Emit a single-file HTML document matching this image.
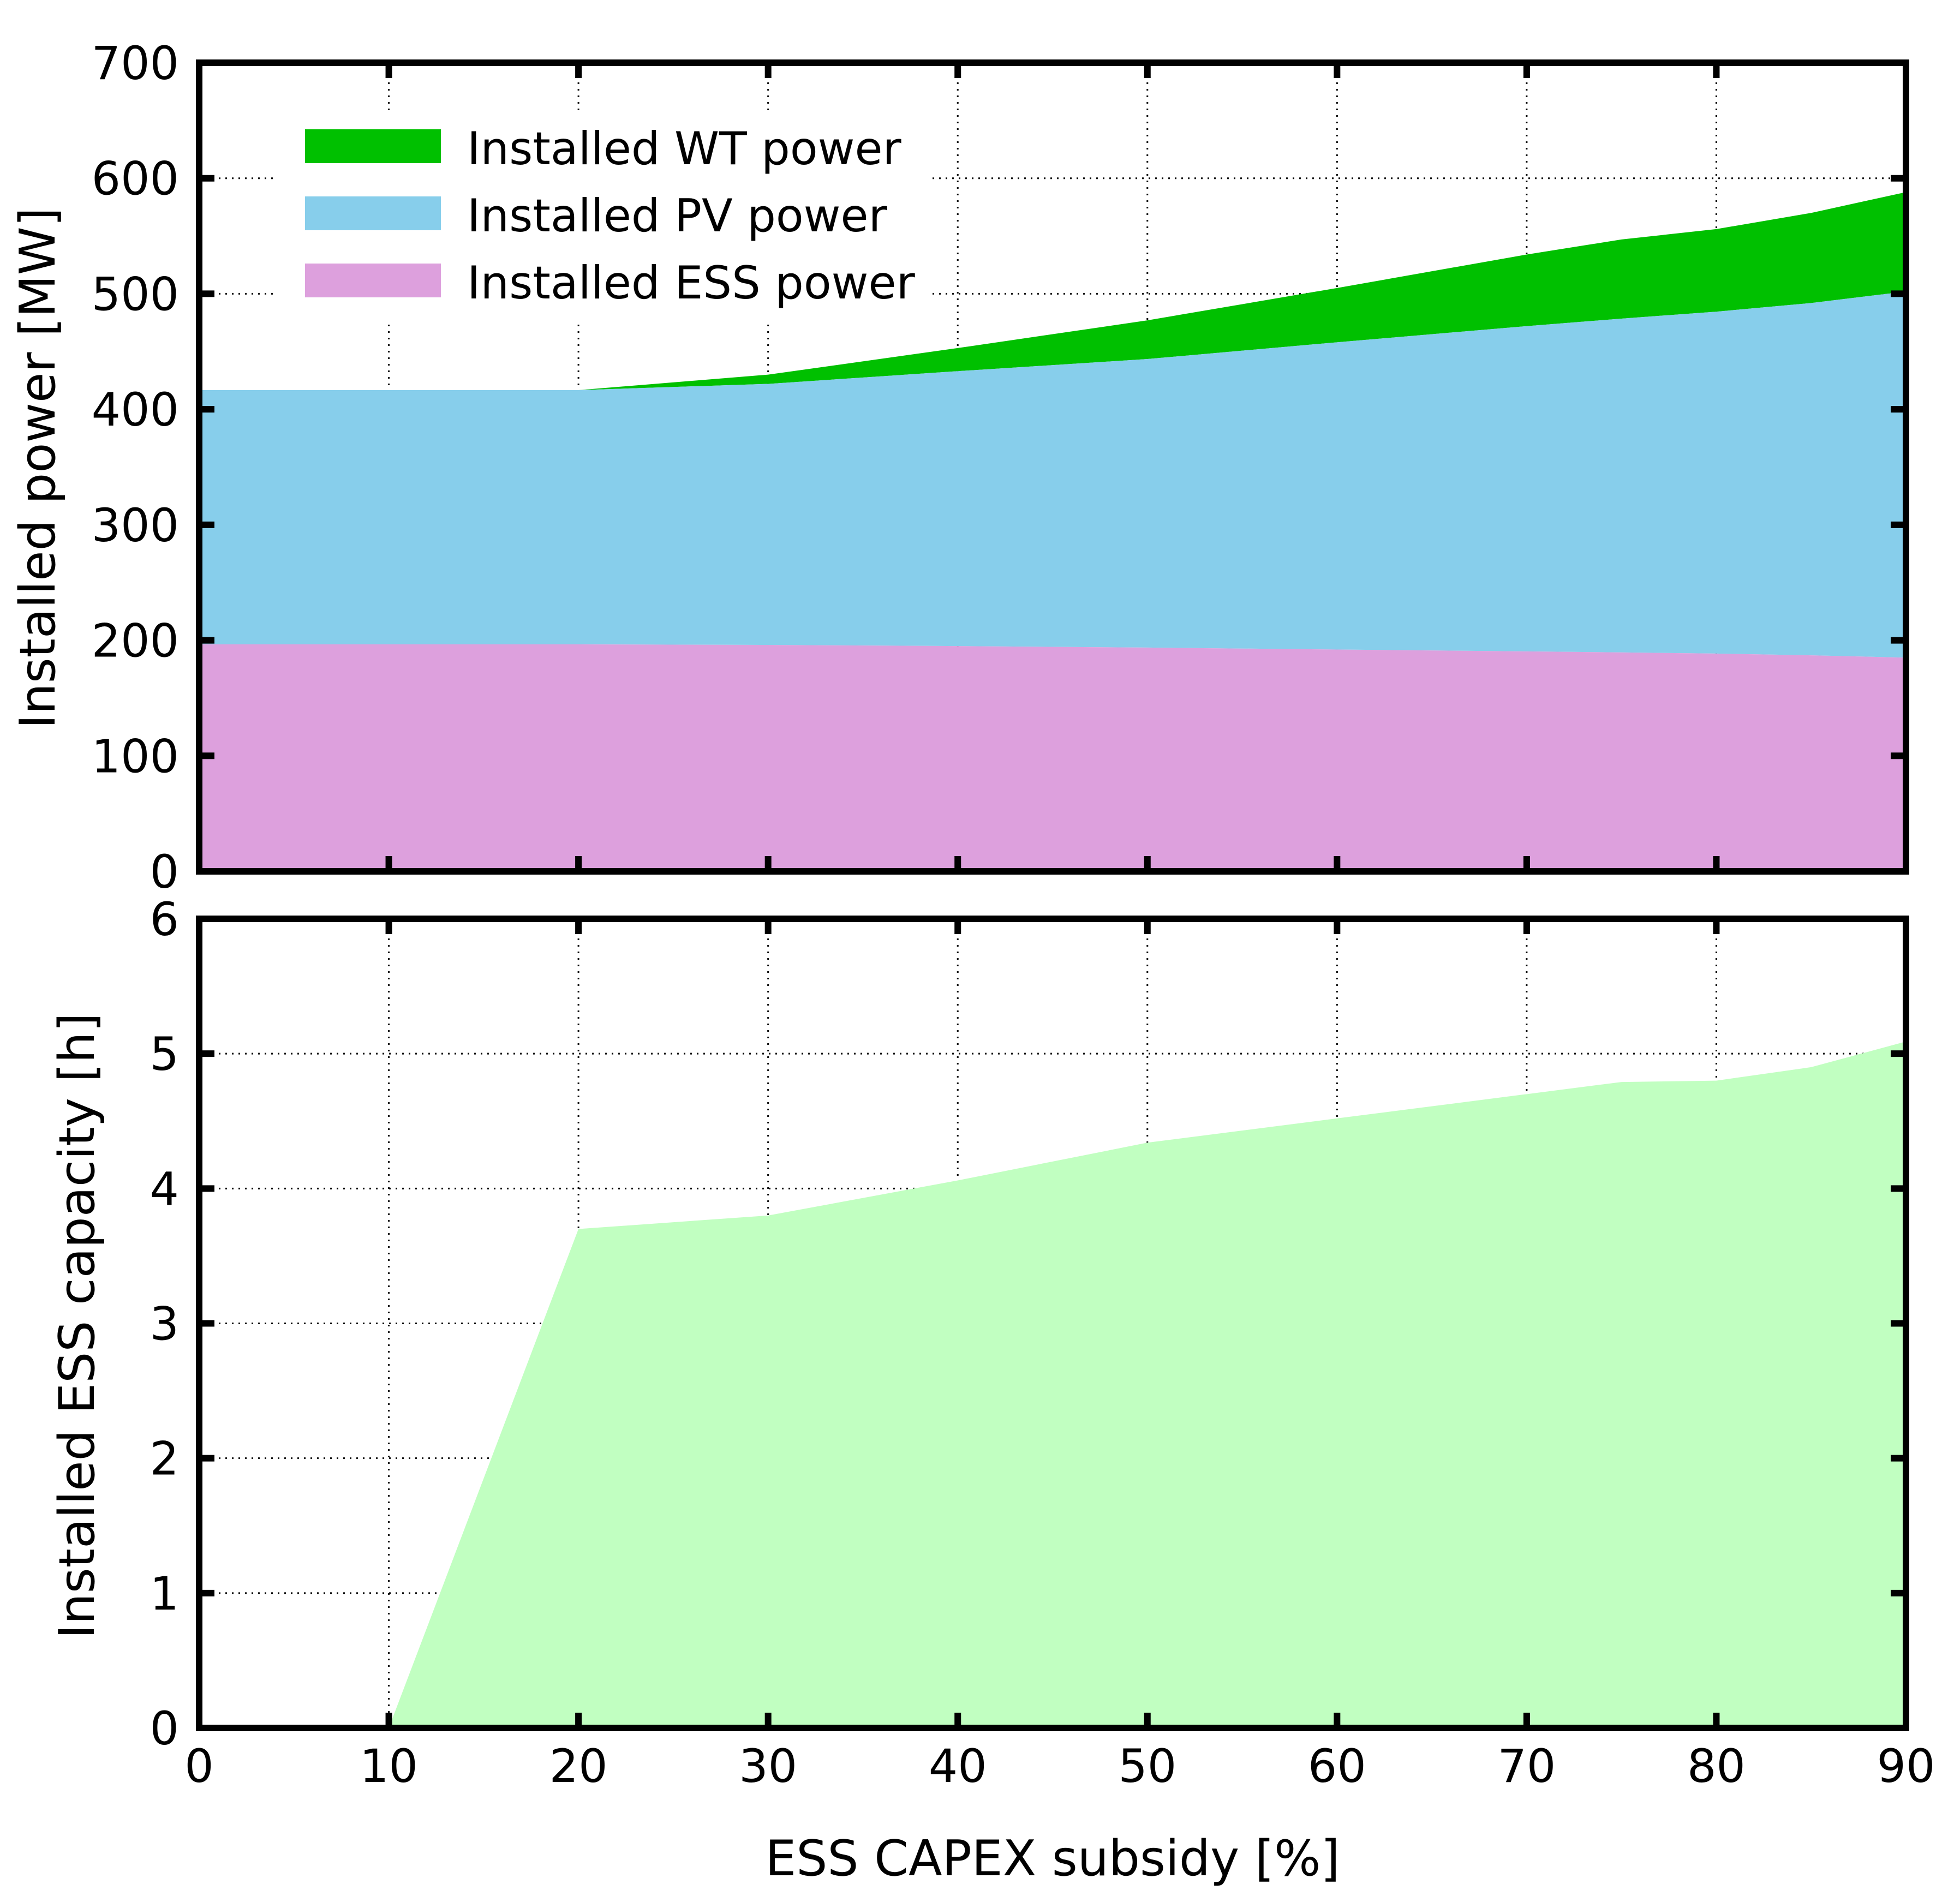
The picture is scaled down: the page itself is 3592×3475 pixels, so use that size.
<!DOCTYPE html>
<html><head><meta charset="utf-8">
<style>
html,body{margin:0;padding:0;background:#fff;}
svg{display:block;font-family:"DejaVu Sans","Liberation Sans",sans-serif;}
</style></head>
<body>
<svg id="chart" width="3592" height="3475" viewBox="0 0 3592 3475" xmlns="http://www.w3.org/2000/svg">
<g id="topPanel"></g>
<g id="botPanel"></g>
</svg>
<script>
const xs = [0,10,20,30,40,50,60,70,75,80,85,90];
const essPower = [196.5,196.5,196.5,196,195,193.7,192,190.4,189.5,188.5,187,185];
const pvTop    = [416.6,416.6,416.6,422,433,443.5,458,472,478.5,484.5,492,502];
const wtTop    = [416.6,416.6,416.6,430,453,477,505,534,547,556,570,588];
const capX = [10,20,30,40,50,60,70,75,80,85,90];
const capacity = [0,3.70,3.80,4.06,4.34,4.52,4.70,4.79,4.80,4.90,5.09];
const xTicks = [0,10,20,30,40,50,60,70,80,90];
const yTopTicks = [0,100,200,300,400,500,600,700];
const yBotTicks = [0,1,2,3,4,5,6];

const NS="http://www.w3.org/2000/svg";
const L=365,R=3493;
const T1=115,B1=1597,T2=1684,B2=3167;
const X=v=>L+(R-L)*v/90;
const Y1=v=>B1-(B1-T1)*v/700;
const Y2=v=>B2-(B2-T2)*v/6;
function mk(tag,attrs,parent){const e=document.createElementNS(NS,tag);for(const k in attrs)e.setAttribute(k,attrs[k]);parent.appendChild(e);return e;}
const topG=document.getElementById('topPanel'), botG=document.getElementById('botPanel');

function grid(g,ticksY,Y,T,B){
  xTicks.slice(1,-1).forEach(t=>{const l=mk('line',{x1:X(t),x2:X(t),y1:T,y2:B,stroke:'#000','stroke-width':3,'stroke-dasharray':'3 9'},g);
    
    });
  ticksY.slice(1,-1).forEach(t=>{const l=mk('line',{x1:L,x2:R,y1:Y(t),y2:Y(t),stroke:'#000','stroke-width':3,'stroke-dasharray':'3 9'},g);
    
    });
}
function area(g,xv,lo,hi,Y,fill,name){
  let d='M'+xv.map((x,i)=>X(x)+','+Y(hi[i])).join(' L');
  for(let i=xv.length-1;i>=0;i--) d+=' L'+X(xv[i])+','+Y(lo[i]);
  const p=mk('path',{d:d+'Z',fill:fill},g);
  
  
}
function frame(g,ticksY,Y,T,B,showX){
  xTicks.slice(1,-1).forEach(t=>{
    const a=mk('line',{x1:X(t),x2:X(t),y1:B,y2:B-28,stroke:'#000','stroke-width':12},g);
    
    
    const b=mk('line',{x1:X(t),x2:X(t),y1:T,y2:T+28,stroke:'#000','stroke-width':12},g);
    
    
  });
  ticksY.slice(1,-1).forEach(t=>{
    const a=mk('line',{x1:L,x2:L+28,y1:Y(t),y2:Y(t),stroke:'#000','stroke-width':12},g);
    
    
    const b=mk('line',{x1:R,x2:R-28,y1:Y(t),y2:Y(t),stroke:'#000','stroke-width':12},g);
    
    
  });
  ticksY.forEach(t=>{
    const tx=mk('text',{x:L-37,y:Y(t)+30,'text-anchor':'end','font-size':84},g);
    tx.textContent=t;
    
    
  });
  if(showX) xTicks.forEach(t=>{
    const tx=mk('text',{x:X(t),y:3266,'text-anchor':'middle','font-size':84},g);
    tx.textContent=t;
    
    
  });
  const r=mk('rect',{x:L,y:T,width:R-L,height:B-T,fill:'none',stroke:'#000','stroke-width':12},g);
  
  
}
grid(topG,yTopTicks,Y1,T1,B1);
const zeros=xs.map(()=>0);
area(topG,xs,pvTop,wtTop,Y1,'#00c000','wt-area');
area(topG,xs,essPower,pvTop,Y1,'#87ceeb','pv-area');
area(topG,xs,zeros,essPower,Y1,'#dda0dd','ess-area');
const lg=mk('g',{},topG);


mk('rect',{x:505,y:208,width:1203,height:382,fill:'#fff'},lg);
[['Installed WT power','#00c000',237,301],['Installed PV power','#87ceeb',360,424],['Installed ESS power','#dda0dd',483,547]].forEach(([t,c,ry,by])=>{
  const r=mk('rect',{x:559,y:ry,width:249,height:62,fill:c},lg);
  
  
  const tx=mk('text',{x:856,y:by,'font-size':83},lg);
  tx.textContent=t;
  
  
});
frame(topG,yTopTicks,Y1,T1,B1,false);
const yl1=mk('text',{x:0,y:0,'text-anchor':'middle','font-size':90,transform:'translate(100,858) rotate(-90)'},topG);
yl1.textContent='Installed power [MW]';


grid(botG,yBotTicks,Y2,T2,B2);
area(botG,capX,capX.map(()=>0),capacity,Y2,'#c1ffc1','capacity-area');
frame(botG,yBotTicks,Y2,T2,B2,true);
const yl2=mk('text',{x:0,y:0,'text-anchor':'middle','font-size':90,transform:'translate(172,2430) rotate(-90)'},botG);
yl2.textContent='Installed ESS capacity [h]';


const xl=mk('text',{x:1929,y:3437,'text-anchor':'middle','font-size':90},botG);
xl.textContent='ESS CAPEX subsidy [%]';


</script>
</body></html>
